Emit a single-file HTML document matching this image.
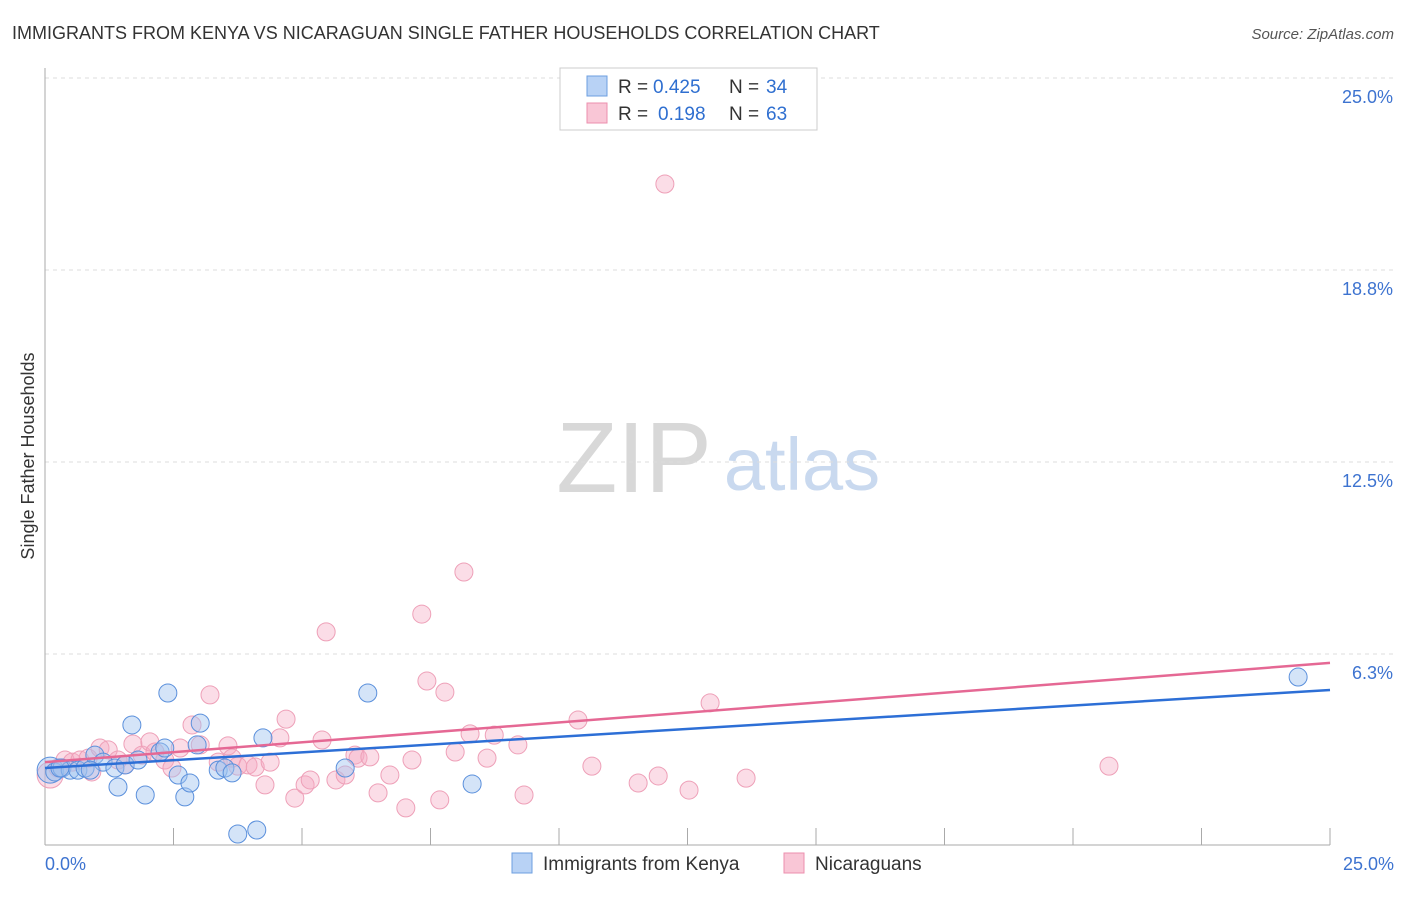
<!DOCTYPE html>
<html><head><meta charset="utf-8"><style>
body{margin:0;background:#fff;font-family:"Liberation Sans",sans-serif}
svg text{font-family:"Liberation Sans",sans-serif}
</style></head><body>
<svg id="chart" width="1406" height="892" xmlns="http://www.w3.org/2000/svg">
<text x="12" y="39" font-size="18" fill="#333">IMMIGRANTS FROM KENYA VS NICARAGUAN SINGLE FATHER HOUSEHOLDS CORRELATION CHART</text>
<text x="1394" y="39" font-size="15" fill="#555" font-style="italic" text-anchor="end">Source: ZipAtlas.com</text>
<text x="34" y="456" font-size="18" fill="#333" text-anchor="middle" transform="rotate(-90 34 456)">Single Father Households</text>
<g>
<text x="634" y="492" font-size="100" fill="#d8d8d8" font-family="Liberation Serif,serif" text-anchor="middle">ZIP</text>
<text x="802" y="490" font-size="74" fill="#c9d9ef" text-anchor="middle">atlas</text>
</g>
<g id="grid"></g>
<g id="axes"></g>
<g id="marks"></g>
<g>
<rect x="560" y="68" width="257" height="62" fill="#fff" stroke="#ccc"/>
<rect x="587" y="76" width="20" height="20" fill="#b8d2f5" stroke="#6d9fe0"/>
<rect x="587" y="103" width="20" height="20" fill="#f9c6d6" stroke="#ec8fae"/>
<text x="618" y="93" font-size="19" fill="#333">R =</text>
<text x="653" y="93" font-size="19" fill="#2f6fd0">0.425</text>
<text x="729" y="93" font-size="19" fill="#333">N =</text>
<text x="766" y="93" font-size="19" fill="#2f6fd0">34</text>
<text x="618" y="120" font-size="19" fill="#333">R =</text>
<text x="658" y="120" font-size="19" fill="#2f6fd0">0.198</text>
<text x="729" y="120" font-size="19" fill="#333">N =</text>
<text x="766" y="120" font-size="19" fill="#2f6fd0">63</text>
</g>
<g>
<rect x="512" y="853" width="20" height="20" fill="#b8d2f5" stroke="#6d9fe0"/>
<text x="543" y="870" font-size="19" fill="#333">Immigrants from Kenya</text>
<rect x="784" y="853" width="20" height="20" fill="#f9c6d6" stroke="#ec8fae"/>
<text x="815" y="870" font-size="19" fill="#333">Nicaraguans</text>
</g>
</svg>
<script>
const yTicks=[25,18.75,12.5,6.25];
const yTickLabels=["25.0%","18.8%","12.5%","6.3%"];
const xTickLabels=["0.0%","25.0%"];
const kenyaX=[0.10,0.19,0.33,0.49,0.64,0.78,0.97,1.13,1.36,1.42,1.56,1.69,1.81,1.95,2.24,2.33,2.39,2.59,2.72,2.82,2.96,3.02,3.37,3.50,3.64,3.75,4.12,4.24,5.84,6.28,8.31,24.38,0.29,0.88];
const kenyaY=[2.47,2.41,2.54,2.47,2.47,2.54,2.96,2.73,2.54,1.92,2.64,3.94,2.80,1.66,3.06,3.19,4.98,2.31,1.60,2.05,3.29,4.00,2.47,2.54,2.38,0.39,0.52,3.52,2.54,4.98,2.02,5.50,2.54,2.47];
const nicX=[0.10,0.25,0.39,0.53,0.68,0.84,0.91,1.07,1.23,1.42,1.56,1.71,1.89,2.04,2.14,2.33,2.47,2.63,2.86,3.02,3.21,3.37,3.56,3.64,3.75,3.95,4.09,4.28,4.38,4.57,4.69,4.86,5.06,5.16,5.39,5.47,5.66,5.84,6.03,6.09,6.32,6.48,6.71,7.02,7.14,7.33,7.43,7.68,7.78,7.98,8.15,8.27,8.60,8.74,9.20,9.32,10.37,10.64,11.54,11.93,12.06,12.53,12.94,13.64,20.70];
const nicY=[2.31,2.54,2.80,2.73,2.80,2.86,2.41,3.19,3.13,2.80,2.64,3.32,2.96,3.39,3.06,2.80,2.54,3.19,3.94,3.29,4.92,2.73,3.26,2.86,2.60,2.64,2.57,1.99,2.73,3.52,4.13,1.56,1.99,2.15,3.45,6.97,2.15,2.31,2.96,2.86,2.90,1.73,2.31,1.24,2.80,7.55,5.37,1.50,5.01,3.06,8.92,3.65,2.86,3.61,3.29,1.66,4.10,2.60,2.05,2.28,21.55,1.82,4.66,2.21,2.60];
const kenyaTrend=[2.54,5.08];
const nicTrend=[2.73,5.96];
const NS="http://www.w3.org/2000/svg";
const sx=v=>45+v/25*1285;
const sy=v=>846-v*30.72;
function mk(tag,attrs,parent){const e=document.createElementNS(NS,tag);for(const k in attrs)e.setAttribute(k,attrs[k]);document.getElementById(parent).appendChild(e);return e;}
yTicks.forEach((t,i)=>{
 const l=mk('line',{x1:45,x2:1394,y1:sy(t),y2:sy(t),stroke:'#ddd','stroke-dasharray':'4,4'},'grid');
 
 
 const tx=mk('text',{x:1393,y:sy(t)+25,'font-size':18,fill:'#3d73d0','text-anchor':'end'},'grid');
 tx.textContent=yTickLabels[i];
 
 
});
const ax=mk('line',{x1:45,x2:45,y1:68,y2:845,stroke:'#aaa'},'axes');


const bx=mk('line',{x1:45,x2:1330,y1:845,y2:845,stroke:'#aaa'},'axes');


for(let i=1;i<=10;i++){
 const t=mk('line',{x1:sx(i*2.5),x2:sx(i*2.5),y1:828,y2:845,stroke:'#aaa'},'axes');
 
 
}
[[0,'start',45],[25,'end',1394]].forEach((p,i)=>{
 const t=mk('text',{x:p[2],y:870,'font-size':18,fill:'#3d73d0','text-anchor':p[1]},'axes');
 t.textContent=xTickLabels[i];
 
 
});
nicX.forEach((x,i)=>{
 const c=mk('circle',{cx:sx(x),cy:sy(nicY[i]),r:i==0?13:9,fill:'rgba(246,170,195,0.4)',stroke:'#eea0b8','stroke-width':1},'marks');
 
 
});
kenyaX.forEach((x,i)=>{
 const c=mk('circle',{cx:sx(x),cy:sy(kenyaY[i]),r:i==0?13:9,fill:'rgba(160,195,240,0.45)',stroke:'#5b90dc','stroke-width':1},'marks');
 
 
});
const tk=mk('line',{x1:sx(0),y1:sy(kenyaTrend[0]),x2:sx(25),y2:sy(kenyaTrend[1]),stroke:'#2d6fd6','stroke-width':2.5},'marks');


const tn=mk('line',{x1:sx(0),y1:sy(nicTrend[0]),x2:sx(25),y2:sy(nicTrend[1]),stroke:'#e56894','stroke-width':2.5},'marks');


</script>
</body></html>
